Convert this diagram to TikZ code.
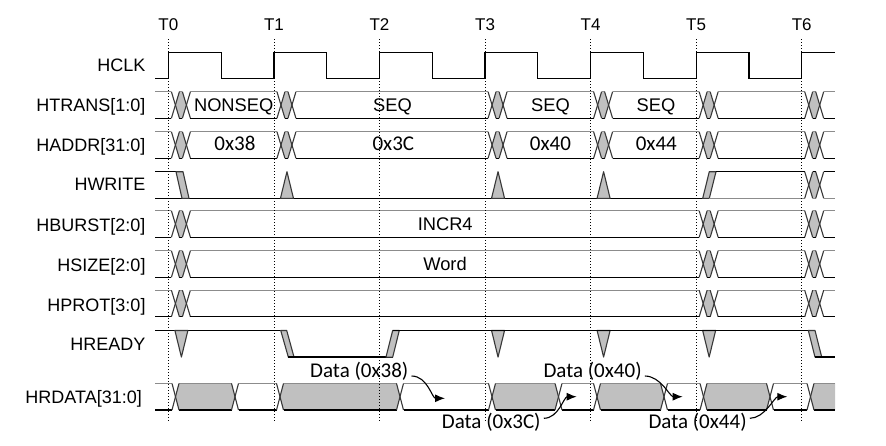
\documentclass[tikz,border=0pt]{standalone}
\usepackage{fontspec}
\setmainfont{Liberation Sans}
\newfontfamily\hexfont{Carlito}
\usetikzlibrary{arrows.meta,calc}
\definecolor{topgray}{HTML}{8C8C8C}
\definecolor{fillgray}{HTML}{C0C0C0}
\definecolor{xgray}{HTML}{383838}
\def\myhh{13.3}
\def\TTa{168.4}
\def\TTb{273.95}
\def\TTc{379.5}
\def\TTd{485.05}
\def\TTe{590.6}
\def\TTf{696.15}
\def\TTg{801.7}
\newcommand\myX[3]{%
  \draw[xl] ({#1},{#3-\myhh}) -- ({#1+#2},{#3+\myhh});
  \draw[xl] ({#1},{#3+\myhh}) -- ({#1+#2},{#3-\myhh});}
\newcommand\myLines[3]{%
  \draw[topl] ({#1},{#3-\myhh}) -- ({#2},{#3-\myhh});
  \draw[botl] ({#1},{#3+\myhh}) -- ({#2},{#3+\myhh});}
\newcommand\myDX[2]{%
  \fill[fillgray] ({#1+7},{#2}) -- ({#1+11},{#2-\myhh}) -- ({#1+14},{#2-\myhh}) -- ({#1+18},{#2}) -- ({#1+14},{#2+\myhh}) -- ({#1+11},{#2+\myhh}) -- cycle;
  \myLines{#1+11}{#1+14}{#2}
  \myX{#1+3}{8}{#2}
  \myX{#1+14}{8}{#2}}
\newcommand\busrow[2]{%
  \foreach \tv [remember=\tv as \lastt (initially 133)] in {#2} {
    \myLines{\lastt+22}{\tv+3}{#1}
    \myDX{\tv}{#1}}
  \myLines{\TTg+22}{835}{#1}}
\newcommand\myGray[3]{%
  \fill[fillgray] ({#1+3.5},{#3}) -- ({#1+7},{#3-\myhh}) -- ({#2},{#3-\myhh}) -- ({#2+3.5},{#3}) -- ({#2},{#3+\myhh}) -- ({#1+7},{#3+\myhh}) -- cycle;
  \myLines{#1+7}{#2}{#3}}
\tikzset{
  sig/.style={line width=1.2pt, black},
  topl/.style={line width=1.2pt, topgray},
  botl/.style={line width=1.2pt, black},
  xl/.style={line width=1.1pt, xgray},
  pg/.style={fill=fillgray, draw=xgray, line width=1.1pt, line join=round},
  dotl/.style={line width=0.9pt, dash pattern=on 1pt off 2pt},
  lab/.style={font=\fontsize{18}{20}\selectfont, anchor=base east, inner sep=0pt},
  tlab/.style={font=\fontsize{17}{20}\selectfont, anchor=base, inner sep=0pt},
  val/.style={font=\fontsize{18.3}{20}\selectfont, anchor=base, inner sep=0pt},
  hexv/.style={font=\hexfont\fontsize{21}{24}\selectfont, anchor=base, inner sep=0pt},
  dlab/.style={font=\hexfont\fontsize{21}{24}\selectfont, anchor=base west, inner sep=0pt},
  arr/.style={line width=1.1pt, -{Latex[length=10pt,width=8pt]}},
}
\begin{document}
\begin{tikzpicture}[x=1pt,y=-1pt]
\useasboundingbox (0,0) rectangle (886,445);
\fill[white] (0,0) rectangle (886,445);

% signal labels
\node[lab] (lclk) at (145.7,71) {HCLK};
\node[lab] (ltrans) at (145.7,111.7) {HTRANS[1:0]};
\node[lab] (laddr) at (145.7,151.7) {HADDR[31:0]};
\node[lab] (lwrite) at (145.7,190.7) {HWRITE};
\node[lab] (lburst) at (145.7,231.7) {HBURST[2:0]};
\node[lab] (lsize) at (145.7,271.7) {HSIZE[2:0]};
\node[lab] (lprot) at (145.7,311.7) {HPROT[3:0]};
\node[lab] (lready) at (145.7,350) {HREADY};
\node[lab] (lrdata) at (142,403.3) {HRDATA[31:0]};

% T labels
\node[tlab] (t0) at (\TTa,30.7) {T0};
\node[tlab] (t1) at (\TTb,30.7) {T1};
\node[tlab] (t2) at (\TTc,30.7) {T2};
\node[tlab] (t3) at (\TTd,30.7) {T3};
\node[tlab] (t4) at (\TTe,30.7) {T4};
\node[tlab] (t5) at (\TTf,30.7) {T5};
\node[tlab] (t6) at (\TTg,30.7) {T6};

% HCLK
\draw[sig] (155,78.3) -| (\TTa,52.7) -| (221.2,78.3) -| (\TTb,52.7) -| (326.7,78.3)
  -| (\TTc,52.7) -| (432.3,78.3) -| (\TTd,52.7) -| (537.8,78.3) -| (\TTe,52.7)
  -| (643.4,78.3) -| (\TTf,52.7) -| (748.9,78.3) -| (\TTg,52.7) -- (835,52.7);

% bus rows
\busrow{105}{\TTa,\TTb,\TTd,\TTe,\TTf,\TTg}
\busrow{145}{\TTa,\TTb,\TTd,\TTe,\TTf,\TTg}
\busrow{224}{\TTa,\TTf,\TTg}
\busrow{264}{\TTa,\TTf,\TTg}
\busrow{303.5}{\TTa,\TTf,\TTg}

% HWRITE
\draw[sig] (155,171.7) -- (176,171.7);
\draw[sig] (155,198.3) -- (702.7,198.3);
\filldraw[pg] (176,171.7) -- (183,171.7) -- (189,198.3) -- (182,198.3) -- cycle;
\foreach \tv in {\TTb,\TTd,\TTe}{
  \filldraw[pg] ({\tv+6.5},198.3) -- ({\tv+13},171.7) -- ({\tv+19.5},198.3) -- cycle;}
\filldraw[pg] (702.7,198.3) -- (709.3,198.3) -- (716,171.7) -- (709.3,171.7) -- cycle;
\draw[sig] (716,171.7) -- ({\TTg+3},171.7);
\draw[topl] (709.3,198.3) -- ({\TTg+3},198.3);
\fill[fillgray] ({\TTg+7},185) -- ({\TTg+11},171.7) -- ({\TTg+14},171.7) -- ({\TTg+18},185) -- ({\TTg+14},198.3) -- ({\TTg+11},198.3) -- cycle;
\draw[sig] ({\TTg+11},171.7) -- ({\TTg+14},171.7);
\draw[topl] ({\TTg+11},198.3) -- ({\TTg+14},198.3);
\myX{\TTg+3}{8}{185}
\myX{\TTg+14}{8}{185}
\draw[sig] ({\TTg+22},171.7) -- (835,171.7);
\draw[topl] ({\TTg+22},198.3) -- (835,198.3);

% HREADY
\draw[sig] (155,330.45) -- (280.7,330.45);
\foreach \tv in {\TTa,\TTd,\TTe,\TTf}{
  \filldraw[pg] ({\tv+6.5},330.45) -- ({\tv+13},357.05) -- ({\tv+19.5},330.45) -- cycle;}
\filldraw[pg] (280.7,330.45) -- (286.7,330.45) -- (294,357.05) -- (288.3,357.05) -- cycle;
\draw[sig] (288.3,357.05) -- (392.7,357.05);
\filldraw[pg] (386,357.05) -- (392.7,357.05) -- (399.3,330.45) -- (392.7,330.45) -- cycle;
\draw[sig] (392.7,330.45) -- (808.3,330.45);
\filldraw[pg] (808.3,330.45) -- (815,330.45) -- (821.7,357.05) -- (815,357.05) -- cycle;
\draw[sig] (815,357.05) -- (835,357.05);

% HRDATA
\myLines{155}{172}{396.7}
\myGray{172}{231.5}{396.7}
\myLines{238.5}{276.5}{396.7}
\myGray{276.5}{396.5}{396.7}
\myLines{403.5}{488.5}{396.7}
\myGray{488.5}{555}{396.7}
\myLines{562}{593.5}{396.7}
\myGray{593.5}{660.5}{396.7}
\myLines{667.5}{700}{396.7}
\myGray{700}{766.5}{396.7}
\myLines{773.5}{807}{396.7}
\fill[fillgray] (810.5,396.7) -- (814,383.4) -- (835,383.4) -- (835,410) -- (814,410) -- cycle;
\myLines{814}{835}{396.7}
\foreach \sv in {172,231.5,276.5,396.5,488.5,555,593.5,660.5,700,766.5,807}{
  \myX{\sv}{7}{396.7}}

% bus values
\node[val] (vns) at (233.7,111.7) {NONSEQ};
\node[val] (vs1) at (392.5,111.7) {SEQ};
\node[val] (vs2) at (550.5,111.7) {SEQ};
\node[val] (vs3) at (656,111.7) {SEQ};
\node[hexv] (h38) at (235,150.7) {0x38};
\node[hexv] (h3c) at (393.3,150.7) {0x3C};
\node[hexv] (h40) at (550.5,150.7) {0x40};
\node[hexv] (h44) at (656.3,150.7) {0x44};
\node[val] (vincr) at (445.2,230.3) {INCR4};
\node[val] (vword) at (445,270.2) {Word};

% data labels and arrows
\node[dlab] (d38) at (310,377.3) {Data (0x38)};
\node[dlab] (d3c) at (441.7,428.3) {Data (0x3C)};
\node[dlab] (d40) at (543.3,377.3) {Data (0x40)};
\node[dlab] (d44) at (648.3,428.3) {Data (0x44)};
\coordinate (a38) at (445,398.3);
\coordinate (a3c) at (576.7,396.7);
\coordinate (a40) at (682.7,396.7);
\coordinate (a44) at (787.3,396.7);
\draw[arr] ($(d38.base east)+(3,-1.3)$) .. controls +(16,0) and +(-13,0) .. (a38);
\draw[arr] ($(d3c.base east)+(3,-10)$) .. controls +(15,0) and +(-13,0) .. (a3c);
\draw[arr] ($(d40.base east)+(3,-1.3)$) .. controls +(16,0) and +(-13,0) .. (a40);
\draw[arr] ($(d44.base east)+(3,-10)$) .. controls +(15,0) and +(-13,0) .. (a44);

% dotted clock lines
\foreach \tv in {\TTa,\TTb,\TTc,\TTd,\TTe,\TTf,\TTg}{
  \draw[dotl] (\tv,39) -- (\tv,422);}
\end{tikzpicture}
\end{document}
